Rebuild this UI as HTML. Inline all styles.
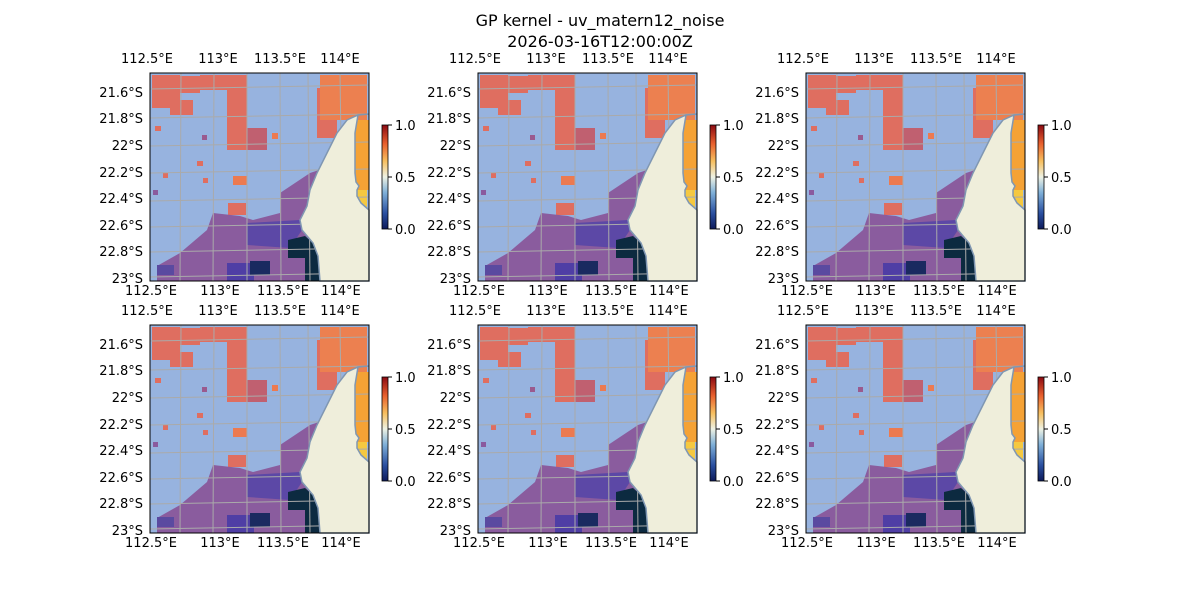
<!DOCTYPE html>
<html><head><meta charset="utf-8"><style>
body{margin:0;background:#fff;}
svg text{font-family:"DejaVu Sans","Liberation Sans",sans-serif;fill:#000;}
</style></head><body>
<svg width="1200" height="600" viewBox="0 0 1200 600" xmlns="http://www.w3.org/2000/svg">
<defs>
<linearGradient id="cb" x1="0" y1="1" x2="0" y2="0">
<stop offset="0" stop-color="#0d1a5a"/><stop offset="0.15" stop-color="#2a4fa0"/>
<stop offset="0.35" stop-color="#7fb0d8"/><stop offset="0.5" stop-color="#eef2e4"/>
<stop offset="0.65" stop-color="#f7c060"/><stop offset="0.82" stop-color="#e8602e"/>
<stop offset="1" stop-color="#8b0a12"/></linearGradient>
<g id="map">
<rect x="0" y="0" width="219" height="208" fill="#97b3df"/>
<g fill="#df6e60">
<rect x="2" y="2" width="28" height="33"/><rect x="30" y="3" width="20" height="17"/>
<rect x="50" y="2" width="47" height="15"/><rect x="77" y="17" width="20" height="60"/>
<rect x="20" y="27" width="23" height="15"/><rect x="5" y="53" width="6" height="5"/>
<rect x="47" y="88" width="6" height="5"/><rect x="53" y="105" width="5" height="5"/>
<rect x="13" y="100" width="5" height="5"/><rect x="78" y="130" width="18" height="12"/>
<rect x="167" y="15" width="20" height="50"/>
</g>
<rect x="97" y="55" width="20" height="22" fill="#c06070"/>
<rect x="52" y="62" width="5" height="5" fill="#9a5a8e"/>
<rect x="3" y="117" width="5" height="5" fill="#8a5a9e"/>
<rect x="83" y="103" width="14" height="9" fill="#ec7a50"/>
<rect x="122" y="60" width="6" height="6" fill="#ec7a50"/>
<rect x="170" y="2" width="47" height="45" fill="#ec8050"/>
<rect x="205" y="47" width="14" height="70" fill="#f5a235"/>
<rect x="207" y="117" width="10" height="18" fill="#f5c840"/>
<polygon points="130,120 160,100 172,96 163,123 157,133 150,147 152,157 163,170 168,183 170,208 7,208 7,193 30,180 57,157 63,140 90,143 103,147 130,140" fill="#8a5c9e"/>
<polygon points="97,150 150,147 152,157 140,175 97,172" fill="#5c48a6"/>
<rect x="77" y="190" width="27" height="18" fill="#4f3ea5"/>
<rect x="7" y="192" width="17" height="10" fill="#5a4aa0"/>
<rect x="100" y="188" width="20" height="14" fill="#1a2a60"/>
<polygon points="138,167 155,163 165,172 168,183 170,208 155,208 155,185 138,185" fill="#0c2a40"/>
<g stroke="#aaaaaa" stroke-width="1" fill="none">
<line x1="31" y1="0" x2="30" y2="208"/><line x1="64" y1="0" x2="63" y2="208"/>
<line x1="97" y1="0" x2="97" y2="208"/><line x1="130" y1="0" x2="131" y2="208"/>
<line x1="158" y1="0" x2="160" y2="208"/><line x1="190" y1="0" x2="193" y2="208"/>
<line x1="0" y1="16" x2="219" y2="12"/><line x1="0" y1="45" x2="219" y2="41"/>
<line x1="0" y1="73" x2="219" y2="69"/><line x1="0" y1="100" x2="219" y2="96"/>
<line x1="0" y1="128" x2="219" y2="124"/><line x1="0" y1="154" x2="219" y2="150"/>
<line x1="0" y1="179" x2="219" y2="175"/><line x1="0" y1="204" x2="219" y2="200"/>
</g>
<path d="M219,41 L208,42 L197,47 L187,60 L177,80 L167,100 L160,117 L157,133 L150,147 L152,157 L163,170 L168,183 L170,208 L219,208 L219,137 L211,130 L207,123 L207,117 L209,113 L206,109 L205,100 L205,60 L208,42 Z" fill="#efeedb" stroke="#8097b2" stroke-width="1.5"/>
<rect x="0" y="0" width="219" height="208" fill="none" stroke="#000" stroke-width="1"/>
</g>
<g id="lbl" font-size="13">
<text x="-3" y="-10" text-anchor="middle">112.5°E</text><text x="68" y="-10" text-anchor="middle">113°E</text>
<text x="130" y="-10" text-anchor="middle">113.5°E</text><text x="190" y="-10" text-anchor="middle">114°E</text>
<text x="1" y="222" text-anchor="middle">112.5°E</text><text x="70" y="222" text-anchor="middle">113°E</text>
<text x="133" y="222" text-anchor="middle">113.5°E</text><text x="191" y="222" text-anchor="middle">114°E</text>
<text x="-7" y="24" text-anchor="end">21.6°S</text><text x="-7" y="50" text-anchor="end">21.8°S</text>
<text x="-7" y="77" text-anchor="end">22°S</text><text x="-7" y="104" text-anchor="end">22.2°S</text>
<text x="-7" y="130" text-anchor="end">22.4°S</text><text x="-7" y="157" text-anchor="end">22.6°S</text>
<text x="-7" y="183" text-anchor="end">22.8°S</text><text x="-7" y="210" text-anchor="end">23°S</text>
<rect x="232" y="52" width="6" height="104" fill="url(#cb)" stroke="#000" stroke-width="0.8"/>
<line x1="238" y1="52" x2="242" y2="52" stroke="#000"/><line x1="238" y1="104" x2="242" y2="104" stroke="#000"/><line x1="238" y1="156" x2="242" y2="156" stroke="#000"/>
<text x="245" y="57">1.0</text><text x="245" y="109">0.5</text><text x="245" y="161">0.0</text>
</g>
</defs>
<text x="600" y="26" text-anchor="middle" font-size="16">GP kernel - uv_matern12_noise</text>
<text x="600" y="47" text-anchor="middle" font-size="16">2026-03-16T12:00:00Z</text>
<use href="#map" x="150" y="73"/><use href="#lbl" x="150" y="73"/>
<use href="#map" x="478" y="73"/><use href="#lbl" x="478" y="73"/>
<use href="#map" x="806" y="73"/><use href="#lbl" x="806" y="73"/>
<use href="#map" x="150" y="325"/><use href="#lbl" x="150" y="325"/>
<use href="#map" x="478" y="325"/><use href="#lbl" x="478" y="325"/>
<use href="#map" x="806" y="325"/><use href="#lbl" x="806" y="325"/>
</svg>
</body></html>
